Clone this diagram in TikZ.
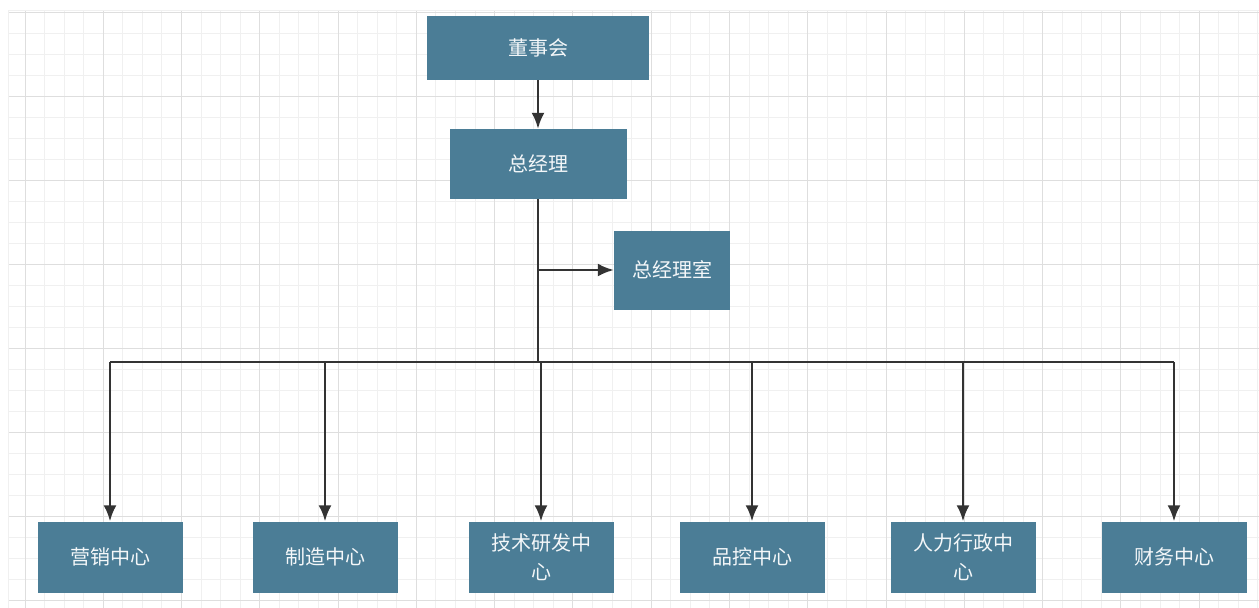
\documentclass[tikz,border=0pt]{standalone}
\usepackage{fontspec}
\newfontfamily\cjk{Noto Sans CJK SC}
\usetikzlibrary{arrows.meta}
\definecolor{boxblue}{HTML}{4B7D96}
\definecolor{linegray}{HTML}{333333}
\definecolor{gridminor}{HTML}{F0F0F0}
\definecolor{gridmajor}{HTML}{DEDEDE}

\begin{document}
\begin{tikzpicture}[x=1pt,y=-1pt,>={Latex[length=16pt,width=13pt]},
  box/.style={fill=boxblue,text=white!94!boxblue,inner sep=0pt,align=center,
    font=\cjk\fontsize{20}{29}\selectfont},
  dept/.style={box,minimum width=145pt,minimum height=71pt},
  link/.style={draw=linegray,line width=2.4pt}]
\useasboundingbox (0,0) rectangle (1259,608);
\fill[white] (0,0) rectangle (1259,608);
% background grid
\foreach \i in {0,...,63} \draw[gridminor,line width=1pt] ({25+19.57*\i},10) -- ({25+19.57*\i},608);
\foreach \j in {0,...,28} \draw[gridminor,line width=1pt] (8,{12+21*\j}) -- (1259,{12+21*\j});
\foreach \i in {0,...,15} \draw[gridmajor,line width=1pt] ({25+78.28*\i},10) -- ({25+78.28*\i},608);
\foreach \j in {0,...,7} \draw[gridmajor,line width=1pt] (8,{12+84*\j}) -- (1259,{12+84*\j});
\draw[gridminor,line width=1pt] (8,608) -- (8,10) -- (1259,10);
% top levels
\node[box,minimum width=222pt,minimum height=64pt] (dsh) at (538,48) {董事会};
\node[box,minimum width=177pt,minimum height=70pt] (zjl) at (538,164) {总经理};
\node[box,minimum width=116pt,minimum height=79pt] (zjls) at (672,270) {总经理室};
% centres
\node[dept] (yx) at (110,557) {营销中心};
\node[dept] (zz) at (325,557) {制造中心};
\node[dept] (yf) at (541,557) {技术研发中\\心};
\node[dept] (pk) at (752,557) {品控中心};
\node[dept] (rl) at (963,557) {人力行政中\\心};
\node[dept] (cw) at (1174,557) {财务中心};
\coordinate (fork) at (538,270);
\coordinate (bus) at (538,362);
\draw[link,->] (dsh) -- (zjl);
\draw[link] (zjl) -- (bus);
\draw[link,->] (fork) -- (zjls);
\draw[link] (yx |- bus) -- (cw |- bus);
\foreach \n in {yx,zz,yf,pk,rl,cw}
  \draw[link,->] (\n |- bus) -- (\n);
\end{tikzpicture}
\end{document}
